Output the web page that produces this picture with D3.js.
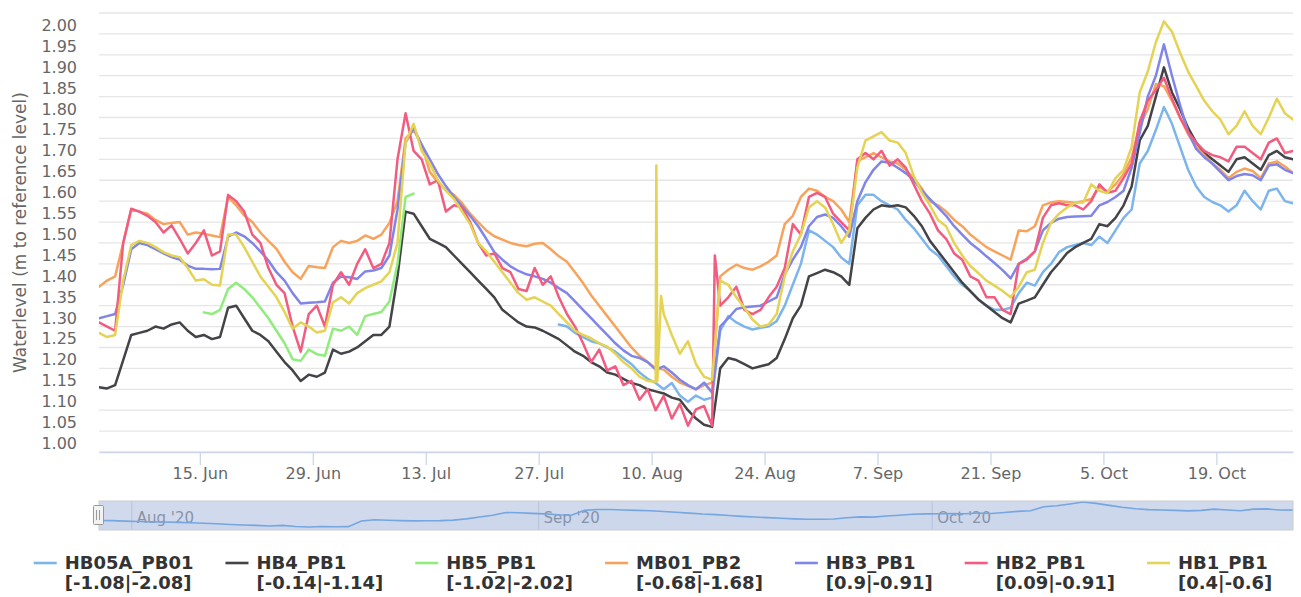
<!DOCTYPE html>
<html>
<head>
<meta charset="utf-8">
<script src="https://cdn.jsdelivr.net/npm/d3@7"></script>
<style>
  body { margin: 0; background: #ffffff; }
  svg { display: block; font-family: "DejaVu Sans", Verdana, sans-serif; }
  .grid line { stroke: #e6e6e6; stroke-width: 1.3; }
  .ylab, .xaxis text { fill: #666666; font-size: 16px; }
  .xaxis path, .xaxis line { stroke: #ccd6eb; stroke-width: 1.3; }
  .ytitle { fill: #666666; font-size: 17px; }
  .serie { fill: none; stroke-width: 2.5; stroke-linejoin: round; stroke-linecap: round; }
  .navlab { fill: #999999; font-size: 15px; }
  .legend text { fill: #333333; font-size: 18px; font-weight: bold; }
</style>
</head>
<body>
<script>

// series info
var seriesNames = ['HB05A_PB01', 'HB4_PB1', 'HB5_PB1', 'MB01_PB2', 'HB3_PB1', 'HB2_PB1', 'HB1_PB1'];
var seriesRanges = ['[-1.08|-2.08]', '[-0.14|-1.14]', '[-1.02|-2.02]', '[-0.68|-1.68]', '[0.9|-0.91]', '[0.09|-0.91]', '[0.4|-0.6]'];
// first daily reading of each series (one value per day after that)
var seriesStart = ['2020-07-29T12:00Z', '2020-06-02T12:00Z', '2020-06-15T12:00Z', '2020-06-02T12:00Z',
    '2020-06-02T12:00Z', '2020-06-02T12:00Z', '2020-06-02T12:00Z'];
var colors = ['#7cb5ec', '#434348', '#90ed7d', '#f7a35c', '#8085e9', '#f15c80', '#e4d354'];

// daily waterlevels (m to reference level)
var hb05a = [1.305, 1.30, 1.285,
    1.275, 1.265, 1.26, 1.25, 1.24, 1.225, 1.21, 1.19, 1.175, 1.165,
    1.15, 1.165, 1.135, 1.12, 1.135, 1.125, 1.13, 1.29, 1.325, 1.31,
    1.30, 1.293, 1.297, 1.30, 1.313, 1.35, 1.40, 1.45, 1.53, 1.52,
    1.505, 1.49, 1.465, 1.45, 1.59, 1.615, 1.615, 1.60, 1.59, 1.58,
    1.555, 1.535, 1.51, 1.485, 1.47, 1.445, 1.42, 1.40, 1.385, 1.365,
    1.35, 1.34, 1.34, 1.345, 1.38, 1.405, 1.398, 1.43, 1.45, 1.478,
    1.49, 1.495, 1.50, 1.495, 1.515, 1.50, 1.53, 1.56, 1.58, 1.69,
    1.72, 1.77, 1.825, 1.785, 1.73, 1.675, 1.635, 1.61, 1.598, 1.59,
    1.575, 1.59, 1.625, 1.60, 1.58, 1.625, 1.63, 1.60, 1.595];

var hb4 = [1.155, 1.152, 1.16, 1.22, 1.28, 1.285, 1.29, 1.30, 1.295, 1.305,
    1.31, 1.29, 1.275, 1.28, 1.27, 1.275, 1.345, 1.35, 1.32, 1.29,
    1.28, 1.265, 1.24, 1.215, 1.195, 1.17, 1.185, 1.18, 1.19, 1.245,
    1.235, 1.24, 1.25, 1.265, 1.28, 1.28, 1.30, 1.42, 1.575, 1.57,
    1.54, 1.51, 1.50, 1.49, 1.47, 1.45, 1.43, 1.41, 1.39, 1.37,
    1.34, 1.325, 1.31, 1.30, 1.298, 1.29, 1.28, 1.27, 1.255, 1.24,
    1.23, 1.215, 1.205, 1.19, 1.185, 1.175, 1.165, 1.16, 1.15, 1.145,
    1.14, 1.13, 1.125, 1.10, 1.08, 1.065, 1.06, 1.20, 1.225, 1.22,
    1.21, 1.20, 1.205, 1.21, 1.225, 1.27, 1.32, 1.35, 1.42, 1.428,
    1.436, 1.43, 1.42, 1.40, 1.535, 1.56, 1.58, 1.59, 1.587, 1.59,
    1.585, 1.565, 1.54, 1.505, 1.48, 1.455, 1.43, 1.405, 1.385, 1.365,
    1.35, 1.335, 1.32, 1.31, 1.355, 1.362, 1.37, 1.40, 1.43, 1.452,
    1.476, 1.49, 1.50, 1.51, 1.545, 1.54, 1.56, 1.59, 1.635, 1.745,
    1.78, 1.85, 1.92, 1.86, 1.82, 1.775, 1.74, 1.715, 1.70, 1.685,
    1.67, 1.70, 1.705, 1.69, 1.675, 1.71, 1.72, 1.705, 1.70];

var hb5 = [1.334, 1.33, 1.34, 1.39, 1.405, 1.39, 1.37,
    1.345, 1.32, 1.29, 1.26, 1.222, 1.218, 1.245, 1.234, 1.23, 1.295,
    1.29, 1.30, 1.28, 1.325, 1.33, 1.335, 1.36, 1.45, 1.61, 1.618];

var mb01 = [1.395, 1.41, 1.42, 1.50, 1.58, 1.575, 1.57, 1.555, 1.545, 1.548,
    1.55, 1.52, 1.525, 1.522, 1.518, 1.514, 1.61, 1.59, 1.566, 1.55,
    1.525, 1.505, 1.486, 1.455, 1.43, 1.414, 1.445, 1.442, 1.44, 1.49,
    1.505, 1.50, 1.505, 1.518, 1.51, 1.52, 1.548, 1.60, 1.75, 1.77,
    1.735, 1.67, 1.645, 1.627, 1.615, 1.595, 1.57, 1.55, 1.53, 1.516,
    1.508, 1.50, 1.495, 1.492, 1.498, 1.50, 1.485, 1.468, 1.455, 1.43,
    1.404, 1.375, 1.35, 1.325, 1.30, 1.275, 1.25, 1.23, 1.215, 1.20,
    1.197, 1.18, 1.166, 1.158, 1.15, 1.16, 1.166, 1.42, 1.436, 1.448,
    1.44, 1.436, 1.444, 1.455, 1.47, 1.545, 1.565, 1.61, 1.63, 1.625,
    1.61, 1.60, 1.58, 1.55, 1.695, 1.705, 1.715, 1.705, 1.695, 1.69,
    1.675, 1.655, 1.63, 1.60, 1.59, 1.575, 1.555, 1.54, 1.52, 1.505,
    1.49, 1.48, 1.47, 1.46, 1.53, 1.528, 1.54, 1.59, 1.597, 1.60,
    1.598, 1.596, 1.60, 1.605, 1.635, 1.623, 1.64, 1.665, 1.705, 1.78,
    1.82, 1.88, 1.875, 1.84, 1.80, 1.76, 1.73, 1.71, 1.69, 1.675,
    1.655, 1.67, 1.678, 1.672, 1.655, 1.69, 1.695, 1.683, 1.667];

var hb3 = [1.32, 1.325, 1.33, 1.40, 1.485, 1.50, 1.495, 1.485, 1.475, 1.466,
    1.46, 1.446, 1.438, 1.438, 1.437, 1.438, 1.515, 1.525, 1.516, 1.50,
    1.48, 1.458, 1.43, 1.41, 1.38, 1.355, 1.357, 1.358, 1.36, 1.405,
    1.42, 1.418, 1.414, 1.432, 1.434, 1.44, 1.47, 1.58, 1.74, 1.775,
    1.735, 1.70, 1.665, 1.636, 1.61, 1.588, 1.565, 1.54, 1.51, 1.478,
    1.46, 1.444, 1.433, 1.425, 1.42, 1.414, 1.405, 1.392, 1.38, 1.36,
    1.34, 1.32, 1.30, 1.28, 1.26, 1.243, 1.23, 1.225, 1.215, 1.197,
    1.205, 1.19, 1.173, 1.16, 1.15, 1.166, 1.142, 1.30, 1.32, 1.342,
    1.346, 1.348, 1.35, 1.36, 1.37, 1.425, 1.46, 1.49, 1.54, 1.562,
    1.568, 1.56, 1.54, 1.515, 1.60, 1.645, 1.675, 1.695, 1.692, 1.68,
    1.667, 1.65, 1.625, 1.605, 1.585, 1.565, 1.54, 1.52, 1.50, 1.485,
    1.468, 1.452, 1.435, 1.415, 1.45, 1.462, 1.48, 1.53, 1.548, 1.558,
    1.562, 1.563, 1.564, 1.565, 1.59, 1.598, 1.61, 1.625, 1.68, 1.763,
    1.85, 1.90, 1.975, 1.90, 1.83, 1.765, 1.725, 1.705, 1.69, 1.67,
    1.65, 1.66, 1.665, 1.662, 1.65, 1.685, 1.688, 1.675, 1.667];

var hb2 = [1.31, 1.30, 1.29, 1.50, 1.582, 1.575, 1.565, 1.55, 1.525, 1.542,
    1.51, 1.475, 1.50, 1.53, 1.47, 1.48, 1.615, 1.60, 1.575, 1.52,
    1.50, 1.44, 1.40, 1.38, 1.30, 1.24, 1.33, 1.35, 1.30, 1.40,
    1.43, 1.40, 1.45, 1.485, 1.44, 1.45, 1.50, 1.70, 1.81, 1.72,
    1.70, 1.64, 1.65, 1.575, 1.59, 1.585, 1.55, 1.50, 1.47, 1.475,
    1.44, 1.43, 1.39, 1.385, 1.44, 1.40, 1.42, 1.37, 1.33, 1.30,
    1.26, 1.215, 1.245, 1.195, 1.205, 1.16, 1.17, 1.125, 1.15, 1.10,
    1.134, 1.08, 1.115, 1.063, 1.102, 1.11, 1.063, 1.35, 1.37, 1.395,
    1.34, 1.33, 1.34, 1.37, 1.395, 1.44, 1.545, 1.52, 1.61, 1.62,
    1.61, 1.57, 1.55, 1.53, 1.70, 1.715, 1.70, 1.72, 1.685, 1.70,
    1.68, 1.64, 1.60, 1.57, 1.53, 1.51, 1.475, 1.46, 1.42, 1.41,
    1.37, 1.37, 1.34, 1.33, 1.45, 1.46, 1.48, 1.56, 1.59, 1.595,
    1.59, 1.59, 1.58, 1.60, 1.64, 1.62, 1.625, 1.655, 1.69, 1.79,
    1.84, 1.866, 1.895, 1.845, 1.80, 1.765, 1.74, 1.72, 1.71, 1.705,
    1.695, 1.73, 1.73, 1.715, 1.70, 1.74, 1.75, 1.715, 1.72];

var hb1 = [1.285, 1.275, 1.28, 1.41, 1.495, 1.505, 1.50, 1.49, 1.478, 1.47,
    1.466, 1.44, 1.41, 1.413, 1.40, 1.398, 1.52, 1.52, 1.49, 1.455,
    1.42, 1.395, 1.37, 1.335, 1.295, 1.31, 1.30, 1.286, 1.29, 1.358,
    1.37, 1.355, 1.38, 1.392, 1.40, 1.408, 1.43, 1.50, 1.74, 1.785,
    1.72, 1.69, 1.65, 1.625, 1.605, 1.575, 1.545, 1.50, 1.48, 1.455,
    1.43, 1.405, 1.38, 1.364, 1.37, 1.36, 1.35, 1.33, 1.31, 1.29,
    1.28, 1.272, 1.26, 1.252, 1.235, 1.215, 1.20, 1.18, 1.17, 1.168,
    1.33, 1.28, 1.235, 1.265, 1.21, 1.18, 1.173, 1.41, 1.40, 1.37,
    1.345, 1.317, 1.30, 1.305, 1.33, 1.42, 1.48, 1.52, 1.585, 1.60,
    1.585, 1.545, 1.50, 1.53, 1.68, 1.745, 1.755, 1.765, 1.745, 1.74,
    1.715, 1.66, 1.62, 1.59, 1.555, 1.54, 1.50, 1.47, 1.445, 1.428,
    1.41, 1.398, 1.385, 1.37, 1.395, 1.43, 1.436, 1.50, 1.548, 1.57,
    1.585, 1.596, 1.597, 1.64, 1.625, 1.619, 1.655, 1.675, 1.73, 1.86,
    1.91, 1.98, 2.03, 2.005, 1.955, 1.91, 1.875, 1.84, 1.815, 1.795,
    1.76, 1.78, 1.815, 1.78, 1.76, 1.80, 1.845, 1.81, 1.795];

// short spikes between the daily readings
var extraReadings = [
    { series: 'HB1_PB1', time: '2020-08-10T14:00Z', value: 1.685 },
    { series: 'HB1_PB1', time: '2020-08-10T17:00Z', value: 1.17 },
    { series: 'HB1_PB1', time: '2020-08-11T04:00Z', value: 1.373 },
    { series: 'HB2_PB1', time: '2020-08-17T20:00Z', value: 1.47 }
];

// axis ticks
var xTickDates = ['2020-06-15', '2020-06-29', '2020-07-13', '2020-07-27', '2020-08-10',
    '2020-08-24', '2020-09-07', '2020-09-21', '2020-10-05', '2020-10-19'];
var yTicks = [1.00, 1.05, 1.10, 1.15, 1.20, 1.25, 1.30, 1.35, 1.40, 1.45, 1.50,
    1.55, 1.60, 1.65, 1.70, 1.75, 1.80, 1.85, 1.90, 1.95, 2.00, 2.05];
var yLabelMax = 2.00;
var navMonths = ['2020-08-01', '2020-09-01', '2020-10-01'];


var width = 1301;
var height = 597;
var plot = { left: 99, right: 1293, top: 13, bottom: 452 };
var nav = { top: 501, bottom: 530 };

var canvas = d3.select('body')
    .append('svg')
    .attr('width', width)
    .attr('height', height);

var valueLists = [hb05a, hb4, hb5, mb01, hb3, hb2, hb1];

var series = seriesNames.map(function (name, s) {
    var start = d3.isoParse(seriesStart[s]);
    var pts = valueLists[s].map(function (v, k) {
        return { date: d3.utcDay.offset(start, k), value: v };
    });
    extraReadings.forEach(function (e) {
        if (e.series === name) pts.push({ date: d3.isoParse(e.time), value: e.value });
    });
    pts.sort(function (a, b) { return a.date - b.date; });
    return { name: name, range: seriesRanges[s], color: colors[s], points: pts };
});

var allPoints = d3.merge(series.map(function (d) { return d.points; }));

var xScale = d3.scaleUtc()
    .domain(d3.extent(allPoints, function (d) { return d.date; }))
    .range([plot.left, plot.right]);

var yScale = d3.scaleLinear()
    .domain([yTicks[0], yTicks[yTicks.length - 1]])
    .range([plot.bottom, plot.top]);

// grid
canvas.append('g')
    .attr('class', 'grid')
    .selectAll('line')
    .data(yTicks)
    .enter()
    .append('line')
    .attr('x1', plot.left)
    .attr('x2', plot.right)
    .attr('y1', function (d) { return yScale(d); })
    .attr('y2', function (d) { return yScale(d); });

// y labels (sit a little above their grid line)
canvas.append('g')
    .selectAll('text')
    .data(yTicks.filter(function (d) { return d <= yLabelMax + 1e-9; }))
    .enter()
    .append('text')
    .attr('class', 'ylab')
    .attr('x', 77)
    .attr('y', function (d) { return yScale(d) - 3; })
    .attr('text-anchor', 'end')
    .text(d3.format('.2f'));

canvas.append('text')
    .attr('class', 'ytitle')
    .attr('transform', 'translate(26,' + ((plot.top + plot.bottom) / 2) + ') rotate(-90)')
    .attr('text-anchor', 'middle')
    .text('Waterlevel (m to reference level)');

// x axis
var axisB = d3.axisBottom(xScale)
    .tickValues(xTickDates.map(d3.isoParse))
    .tickFormat(d3.utcFormat('%-d. %b'))
    .tickSize(13)
    .tickSizeOuter(0);

var xAxisG = canvas.append('g')
    .attr('class', 'xaxis')
    .attr('transform', 'translate(0,' + plot.bottom + ')')
    .call(axisB);
xAxisG.attr('font-family', null).attr('font-size', null);

// lines
canvas.append('clipPath')
    .attr('id', 'plotclip')
    .append('rect')
    .attr('x', plot.left)
    .attr('y', plot.top - 4)
    .attr('width', plot.right - plot.left)
    .attr('height', plot.bottom - plot.top + 8);

var line = d3.line()
    .x(function (d) { return xScale(d.date); })
    .y(function (d) { return yScale(d.value); });

canvas.append('g')
    .attr('clip-path', 'url(#plotclip)')
    .selectAll('path')
    .data(series)
    .enter()
    .append('path')
    .attr('class', 'serie')
    .attr('stroke', function (d) { return d.color; })
    .attr('d', function (d) { return line(d.points); });

// navigator (shows the first series)
var navSerie = series[0].points;
var navX = d3.scaleUtc()
    .domain(d3.extent(navSerie, function (d) { return d.date; }))
    .range([plot.left, plot.right]);
var navY = d3.scaleLinear()
    .domain(d3.extent(navSerie, function (d) { return d.value; }))
    .range([nav.bottom - 3, nav.top + 1]);

var navG = canvas.append('g');

navG.selectAll('line')
    .data(navMonths.map(d3.isoParse))
    .enter()
    .append('line')
    .attr('x1', function (d) { return navX(d); })
    .attr('x2', function (d) { return navX(d); })
    .attr('y1', nav.top)
    .attr('y2', nav.bottom)
    .attr('stroke', '#e6e6e6')
    .attr('stroke-width', 1.3);

navG.selectAll('text')
    .data(navMonths.map(d3.isoParse))
    .enter()
    .append('text')
    .attr('class', 'navlab')
    .attr('x', function (d) { return navX(d) + 5; })
    .attr('y', nav.bottom - 7)
    .text(d3.utcFormat("%b '%y"));

navG.append('path')
    .attr('d', d3.area()
        .x(function (d) { return navX(d.date); })
        .y0(nav.bottom)
        .y1(function (d) { return navY(d.value); })(navSerie))
    .attr('fill', series[0].color)
    .attr('fill-opacity', 0.05);

navG.append('path')
    .attr('d', d3.line()
        .x(function (d) { return navX(d.date); })
        .y(function (d) { return navY(d.value); })(navSerie))
    .attr('fill', 'none')
    .attr('stroke', series[0].color)
    .attr('stroke-width', 1.6);

// selected range mask
navG.append('rect')
    .attr('x', plot.left)
    .attr('y', nav.top)
    .attr('width', plot.right - plot.left)
    .attr('height', nav.bottom - nav.top)
    .attr('fill', 'rgba(102,133,194,0.3)')
    .attr('stroke', '#cccccc')
    .attr('stroke-width', 1);

// left handle
navG.append('rect')
    .attr('x', plot.left - 5.5)
    .attr('y', 505.5)
    .attr('width', 10)
    .attr('height', 19)
    .attr('rx', 1)
    .attr('fill', '#f2f2f2')
    .attr('stroke', '#999999');

var gripLines = [-2, 1];
gripLines.forEach(function (dx) {
    navG.append('line')
        .attr('x1', plot.left + dx - 0.5)
        .attr('x2', plot.left + dx - 0.5)
        .attr('y1', 510)
        .attr('y2', 520)
        .attr('stroke', '#999999');
});

// legend
var legend = canvas.append('g').attr('class', 'legend');

var items = legend.selectAll('g')
    .data(series)
    .enter()
    .append('g');

items.append('line')
    .attr('x1', 0)
    .attr('x2', 23)
    .attr('y1', 563)
    .attr('y2', 563)
    .attr('stroke', function (d) { return d.color; })
    .attr('stroke-width', 2.6);

var itemText = items.append('text');
itemText.append('tspan')
    .attr('x', 31)
    .attr('y', 569)
    .text(function (d) { return d.name; });
itemText.append('tspan')
    .attr('x', 31)
    .attr('y', 589)
    .text(function (d) { return d.range; });

var pos = 0;
items.each(function (d) {
    d.lx = pos;
    pos += this.getBBox().width + 32;
});
var legendLeft = 653 - (pos - 32) / 2;
items.attr('transform', function (d) { return 'translate(' + (legendLeft + d.lx) + ',0)'; });

</script>
</body>
</html>
